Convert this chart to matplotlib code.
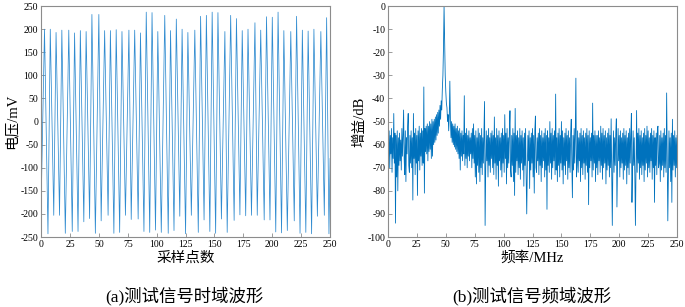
import numpy as np
import matplotlib
matplotlib.use('Agg')
import matplotlib.pyplot as plt

plt.rcParams['font.family'] = ['Liberation Serif', 'Noto Sans CJK SC']
plt.rcParams['axes.unicode_minus'] = False

# (a) 时域波形：峰/谷所在采样点和幅值 (mV)
peak_idx = [3, 8, 13, 18, 24, 29, 34, 39, 44, 50, 55, 60, 65, 70, 76, 81,
            86, 91, 96, 101, 107, 112, 117, 122, 127, 133, 138, 143, 148, 153, 159, 164,
            169, 174, 179, 185, 190, 195, 200, 205, 210, 216, 221, 226, 231, 236, 242, 247]
peak_val = [200, 200, 193, 198, 198, 192, 197, 195, 232, 232, 197, 197, 199, 195, 198, 198,
            192, 237, 236, 195, 230, 197, 222, 200, 193, 198, 228, 230, 237, 236, 195, 230,
            223, 197, 200, 214, 198, 227, 226, 237, 197, 195, 228, 198, 196, 200, 195, 225]
trough_idx = [6, 11, 16, 21, 27, 32, 37, 42, 47, 52, 58, 63, 68, 73, 78, 84,
              89, 94, 99, 104, 110, 115, 120, 125, 130, 136, 141, 146, 151, 156, 161, 167,
              172, 177, 182, 187, 193, 198, 203, 208, 213, 219, 224, 229, 234, 239, 245, 249]
trough_val = [-243, -203, -203, -242, -238, -238, -217, -210, -242, -215, -203, -242, -240, -203, -212, -211,
              -238, -240, -235, -240, -242, -236, -205, -243, -203, -240, -213, -238, -242, -211, -240, -214,
              -202, -204, -203, -203, -213, -213, -239, -241, -236, -215, -242, -240, -243, -205, -203, -243]
start_pt = (0, -190)
end_pt = (250, -80)

# (b) 频域波形：0~250 MHz，每 0.5 MHz 一点 (dB)
spec_db = [
    -58, -66, -54, -70, -56, -64, -53, -72, -57, -66, -46.5, -68, -55, -94, -56, -74, -54, -80, -57, -69,
    -55, -67, -58, -71, -53, -65, -56, -45, -66, -73, -54, -76, -57, -64, -52, -46.5, -69, -72, -56, -68,
    -54, -70, -57, -84, -46.5, -66, -55, -73, -53, -68, -56, -82, -54, -67, -52, -71, -55, -65, -53, -69,
    -54, -68, -35, -81, -53, -63, -52, -64, -51, -67, -52, -63, -50, -62, -51, -66, -49, -65, -50, -60,
    -49, -59, -48, -58, -47, -56, -46, -55, -45, -52, -43, -49, -41, -45, -36, -30, -18, 0, -16, -30,
    -37, -42, -44, -50, -47, -54, -48, -32.5, -50, -57, -50, -59, -51, -60, -52, -61, -51, -62, -53, -63,
    -52, -64, -54, -66, -53, -71, -55, -65, -54, -67, -56, -64, -38.8, -69, -55, -66, -53, -70, -56, -65,
    -54, -67, -57, -64, -55, -70, -53, -66, -51, -68, -56, -74, -54, -77, -57, -69, -53, -72, -55, -76,
    -56, -70, -53, -73, -57, -68, -55, -41.3, -95, -71, -54, -67, -56, -74, -53, -69, -57, -72, -55, -66,
    -54, -70, -56, -73, -48, -68, -57, -75, -53, -69, -56, -78, -54, -67, -57, -71, -55, -74, -53, -68,
    -56, -72, -47, -66, -55, -77, -53, -70, -57, -68, -54, -45.3, -71, -74, -56, -69, -53, -76, -55, -82,
    -44.3, -72, -56, -67, -54, -73, -57, -70, -53, -75, -56, -68, -54, -71, -57, -78, -55, -69, -53, -74,
    -90, -70, -56, -67, -54, -79, -57, -71, -55, -68, -53, -74, -56, -81, -54, -47.6, -70, -72, -57, -67,
    -55, -73, -53, -69, -56, -76, -54, -70, -57, -67, -55, -74, -53, -71, -56, -88, -54, -69, -57, -72,
    -50, -68, -55, -75, -53, -70, -56, -67, -54, -73, -38.1, -71, -57, -76, -55, -69, -53, -74, -56, -68,
    -50, -71, -54, -77, -57, -69, -55, -73, -53, -67, -56, -75, -54, -70, -57, -72, -55, -49, -68, -83,
    -56, -71, -53, -68, -55, -31.2, -74, -69, -54, -72, -57, -67, -55, -76, -53, -70, -56, -73, -54, -68,
    -57, -75, -55, -69, -53, -72, -56, -86, -54, -70, -57, -67, -55, -74, -42, -71, -56, -68, -54, -76,
    -56, -70, -56, -73, -54, -67, -57, -72, -52, -69, -55, -75, -53, -70, -56, -68, -54, -77, -57, -71,
    -55, -69, -53, -74, -56, -70, -48.8, -73, -95, -68, -54, -72, -57, -69, -55, -48.8, -87, -71, -53, -67,
    -56, -74, -54, -70, -57, -68, -55, -75, -53, -71, -56, -69, -54, -77, -57, -70, -55, -73, -53, -68,
    -56, -46.5, -85, -71, -54, -69, -57, -74, -95, -70, -45.2, -72, -55, -68, -53, -75, -56, -70, -54, -73,
    -57, -69, -55, -76, -53, -71, -56, -68, -52, -74, -54, -70, -57, -72, -55, -67, -53, -75, -56, -70,
    -54, -85, -57, -69, -55, -73, -53, -52, -70, -68, -56, -76, -54, -71, -57, -69, -55, -74, -53, -70,
    -56, -72, -37.6, -68, -93, -73, -54, -70, -57, -76, -55, -85, -49, -71, -56, -69, -54, -74, -57, -70,
    -56,
]
spec_freq = np.arange(len(spec_db)) * 0.5

line_color = '#0072BD'
wave_color = '#2f8bd0'
spine_color = '#8c8c8c'

fig = plt.figure(figsize=(6.85, 3.07), dpi=100)
ax1 = fig.add_axes([0.0599, 0.228, 0.422, 0.752])
ax2 = fig.add_axes([0.5664, 0.228, 0.422, 0.752])

# 拼出时域折线
pts = [start_pt]
for pi, pv, ti, tv in zip(peak_idx, peak_val, trough_idx, trough_val):
    pts.append((pi, pv))
    pts.append((ti, tv))
pts.append(end_pt)
tx = [p[0] for p in pts]
ty = [p[1] for p in pts]
ax1.plot(tx, ty, color=wave_color, lw=0.55)
ax1.set_xlim(0, 250)
ax1.set_ylim(-250, 250)
ax1.set_xticks(range(0, 251, 25))
ax1.set_yticks(range(-250, 251, 50))
ax1.set_xlabel('采样点数', fontsize=10.5, labelpad=2)
ax1.set_ylabel('电压/mV', fontsize=10.5, labelpad=1)

ax2.plot(spec_freq, spec_db, color=line_color, lw=0.6)
ax2.set_xlim(0, 250)
ax2.set_ylim(-100, 0)
ax2.set_xticks(range(0, 251, 25))
ax2.set_yticks(range(-100, 1, 10))
ax2.set_xlabel('频率/MHz', fontsize=10.5, labelpad=2)
ax2.set_ylabel('增益/dB', fontsize=10.5, labelpad=1)

for ax in (ax1, ax2):
    for s in ax.spines.values():
        s.set_color(spine_color)
        s.set_linewidth(0.8)
    ax.tick_params(direction='in', length=3, width=0.6, color=spine_color,
                   labelsize=7, pad=2)

fig.text(184 / 685, 1 - 296 / 307, '(a)测试信号时域波形', fontsize=12.5,
         ha='center', va='center')
fig.text(532 / 685, 1 - 296 / 307, '(b)测试信号频域波形', fontsize=12.5,
         ha='center', va='center')

fig.savefig('out.png', dpi=100)
